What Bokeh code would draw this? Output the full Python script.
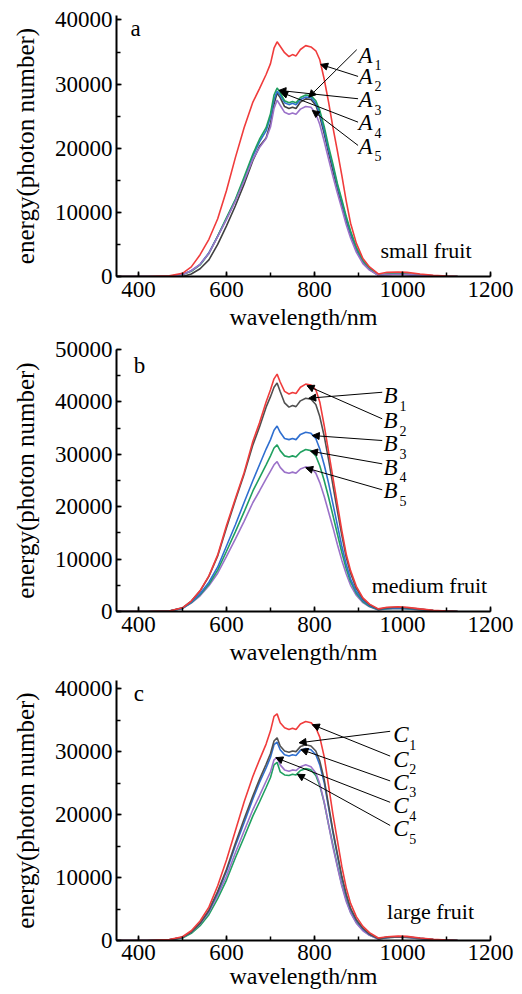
from bokeh.plotting import figure
from bokeh.models import Range1d, SingleIntervalTicker, Label, Arrow, NormalHead
from bokeh.layouts import column
from bokeh.embed import file_html
from bokeh.resources import INLINE

FONT = "Liberation Serif"

# ---------------- data ----------------
wavelength = [350, 420, 470, 500, 520, 540, 560, 580, 600, 620, 640, 660, 675, 690, 700,
              708, 715, 722, 732, 742, 750, 758, 768, 780, 792, 803, 812, 822, 832, 842,
              852, 862, 872, 882, 895, 910, 925, 945, 965, 990, 1010, 1040, 1070, 1100, 1125]

# small fruit (a)
a_red = [0, 0, 100, 500, 1500, 3400, 5800, 9000, 13400, 18500, 23200, 27200, 29300, 31500, 33200,
         35600, 36600, 35900, 34900, 34300, 34600, 34400, 35400, 36000, 35800, 35200, 33800, 30800, 27200, 23200,
         19600, 15800, 11800, 8300, 5200, 2800, 1500, 400, 650, 700, 650, 400, 200, 80, 0]
a_green = [0, 0, 50, 300, 800, 1800, 3600, 6300, 9200, 12000, 15500, 19100, 21400, 23200, 25400,
           28300, 29400, 28700, 27400, 27100, 27300, 27100, 27900, 28300, 28200, 27400, 25900, 23400, 20300, 17500,
           14500, 12000, 9400, 7100, 4600, 2500, 1300, 250, 400, 450, 400, 250, 120, 50, 0]
a_blue = [0, 0, 50, 300, 900, 1900, 3700, 6300, 9000, 11900, 15200, 18800, 21000, 22700, 24900,
          27600, 28900, 28300, 27100, 26800, 27000, 26800, 27600, 28000, 27900, 27000, 25400, 22800, 19800, 17100,
          14200, 11700, 9100, 6800, 4400, 2400, 1200, 250, 350, 400, 350, 200, 100, 40, 0]
a_black = [0, 0, 0, 0, 400, 1200, 2600, 5000, 7900, 11000, 14400, 18100, 20300, 21600, 23900,
           26900, 28600, 27900, 26500, 26200, 26400, 26200, 27200, 27700, 27600, 26700, 25000, 22300, 19300, 16500,
           13700, 11200, 8700, 6500, 4200, 2300, 1100, 200, 300, 350, 300, 200, 100, 30, 0]
a_purple = [0, 0, 50, 300, 900, 1900, 3600, 6200, 8900, 11700, 14900, 18300, 20100, 21500, 23300,
            26200, 27500, 26700, 25600, 25300, 25500, 25300, 26100, 26500, 26400, 25400, 23700, 21100, 18300, 15600,
            13000, 10600, 8100, 6000, 3800, 2000, 1000, 200, 300, 350, 300, 200, 100, 30, 0]

# medium fruit (b)
b_red = [0, 0, 100, 700, 2000, 4000, 6800, 10800, 16400, 21500, 26500, 32500, 36000, 40000, 42300,
         44400, 45300, 43800, 42000, 41500, 41800, 41600, 42800, 43400, 43200, 42300, 40000, 35500, 30500, 25500,
         20500, 15500, 11000, 7800, 4800, 2600, 1400, 500, 800, 900, 800, 500, 250, 100, 0]
b_black = [0, 0, 100, 700, 2000, 3900, 6700, 10600, 16000, 21200, 26200, 31800, 35200, 39000, 41000,
           42800, 43600, 42000, 39800, 39000, 39300, 39100, 40200, 40700, 40500, 39500, 37200, 33500, 29000, 24000,
           19200, 14600, 10400, 7300, 4400, 2400, 1300, 400, 700, 800, 700, 450, 200, 80, 0]
b_blue = [0, 0, 100, 600, 1800, 3400, 5600, 8500, 12500, 16500, 20800, 25000, 28000, 31000, 32800,
          34600, 35400, 34200, 33000, 32800, 33000, 32800, 33800, 34200, 34000, 33000, 31000, 28000, 24500, 20500,
          16500, 12500, 9000, 6200, 3800, 2100, 1100, 400, 600, 700, 600, 400, 200, 80, 0]
b_green = [0, 0, 100, 600, 1700, 3200, 5200, 7900, 11500, 15200, 19000, 23000, 25500, 28000, 29700,
           31200, 31800, 30700, 29700, 29500, 29700, 29500, 30400, 30900, 30700, 29700, 27800, 25000, 21800, 18300,
           14800, 11300, 8200, 5700, 3500, 1900, 1000, 350, 550, 650, 550, 350, 180, 70, 0]
b_purple = [0, 0, 100, 600, 1600, 3000, 4900, 7300, 10500, 13800, 17200, 20800, 23000, 25300, 26800,
            28000, 28600, 27500, 26600, 26400, 26600, 26400, 27200, 27600, 27400, 26400, 24600, 22000, 19000, 16000,
            12800, 9800, 7200, 5000, 3100, 1700, 900, 300, 500, 600, 500, 300, 150, 60, 0]

# large fruit (c)
c_red = [0, 0, 150, 600, 1550, 3100, 5300, 8700, 12800, 17400, 22000, 26100, 28700, 31200, 33300,
         35600, 36000, 34600, 33800, 33500, 33700, 33500, 34400, 34800, 34600, 33800, 32300, 29200, 24600, 20000,
         15900, 11800, 8400, 5900, 3800, 2250, 1250, 400, 600, 700, 650, 400, 200, 80, 0]
c_black = [0, 0, 100, 500, 1350, 2750, 4800, 7800, 11300, 15400, 19300, 23000, 25600, 28000, 29700,
           31700, 32200, 30900, 30100, 29900, 30100, 30000, 30800, 31100, 30900, 30100, 28500, 25600, 21500, 17400,
           13800, 10200, 7400, 5100, 3300, 1950, 1000, 300, 500, 600, 550, 350, 170, 70, 0]
c_blue = [0, 0, 100, 500, 1350, 2750, 4700, 7600, 11000, 15000, 18700, 22500, 25100, 27400, 29100,
          31100, 31500, 30300, 29500, 29300, 29500, 29400, 30200, 30500, 30300, 29500, 27900, 25100, 21100, 17100,
          13500, 10000, 7200, 5000, 3200, 1850, 970, 300, 500, 600, 550, 350, 170, 70, 0]
c_purple = [0, 0, 100, 500, 1330, 2650, 4500, 7200, 10200, 13900, 17400, 20800, 23000, 25300, 26800,
            28700, 29100, 27900, 27100, 26900, 27100, 27000, 27600, 27900, 27600, 26600, 24900, 22000, 18400, 14800,
            11700, 8700, 6200, 4400, 2750, 1550, 820, 250, 450, 550, 500, 300, 150, 60, 0]
c_green = [0, 0, 80, 400, 1130, 2350, 4100, 6650, 9600, 13100, 16400, 19800, 22000, 24300, 25900,
           27900, 28300, 26800, 26300, 26200, 26400, 26300, 27000, 27300, 27100, 26200, 24600, 21900, 18400, 15100,
           11900, 8900, 6500, 4500, 2900, 1650, 870, 250, 450, 550, 500, 300, 150, 60, 0]

# labels / annotations
x_label = "wavelength/nm"
y_label = "energy(photon number)"
panel_letters = ["a", "b", "c"]
panel_notes = ["small fruit", "medium fruit", "large fruit"]
series_symbols = ["A", "B", "C"]
series_numbers = ["1", "2", "3", "4", "5"]
y_max = [40700, 50000, 41300]

letter_x = [382, 389, 389]
letter_y = [38700, 47000, 39300]
note_x = [950, 930, 965]
note_y = [4000, 4900, 4600]

sym_x = [900, 957, 979]
sym_y = [[34500, 31200, 27600, 24000, 20300],
         [41200, 36450, 32000, 27530, 23080],
         [32700, 28770, 25100, 21420, 17750]]

arrow_x0 = [[896, 899, 899, 899, 899],
            [954, 954, 954, 954, 954],
            [972, 972, 972, 972, 972]]
arrow_y0 = [[35370, 31200, 27720, 24070, 20440],
            [41840, 36770, 32630, 28180, 23220],
            [33230, 29290, 25350, 21950, 18270]]
arrow_x1 = [[787, 814, 719, 723, 795],
            [787, 783, 795, 791, 780],
            [765, 795, 769, 712, 761]]
arrow_y1 = [[27970, 33070, 29020, 28750, 25900],
            [40700, 43100, 33580, 30590, 27420],
            [31400, 34280, 30350, 29040, 26410]]

panel_series = [
    [a_black, a_blue, a_green, a_purple, a_red],
    [b_purple, b_green, b_blue, b_black, b_red],
    [c_green, c_purple, c_blue, c_black, c_red],
]
panel_colors = [
    ["#404040", "#2f6fd0", "#20a060", "#9b72c9", "#f03c3c"],
    ["#9b72c9", "#20a060", "#2f6fd0", "#505050", "#f03c3c"],
    ["#20a060", "#9b72c9", "#2f6fd0", "#505050", "#f03c3c"],
]

frame_heights = [261, 262, 260]
top_borders = [15, 16, 13]
bottom_borders = [57, 56, 54]
tick_standoffs = [5, 5, 4]
xlabel_standoffs = [4, 4, 0]


def make_panel(i):
    p = figure(frame_width=374, frame_height=frame_heights[i],
               min_border_left=116, min_border_right=32,
               min_border_top=top_borders[i], min_border_bottom=bottom_borders[i],
               x_range=Range1d(350, 1200), y_range=Range1d(0, y_max[i]),
               output_backend="svg", toolbar_location=None)
    p.xgrid.visible = False
    p.ygrid.visible = False
    p.outline_line_color = None
    p.background_fill_color = "white"
    p.border_fill_color = "white"

    p.xaxis.ticker = SingleIntervalTicker(interval=200, num_minor_ticks=2)
    p.yaxis.ticker = SingleIntervalTicker(interval=10000, num_minor_ticks=2)
    for ax in p.axis:
        ax.axis_line_width = 2
        ax.axis_line_color = "black"
        ax.major_tick_in = 5
        ax.major_tick_out = 0
        ax.minor_tick_in = 4
        ax.minor_tick_out = 0
        ax.major_tick_line_width = 1.5
        ax.minor_tick_line_width = 1.5
        ax.major_tick_line_color = "black"
        ax.minor_tick_line_color = "black"
        ax.major_label_text_font = FONT
        ax.major_label_text_font_size = "23px"
        ax.major_label_text_color = "black"
        ax.axis_label_text_font = FONT
        ax.axis_label_text_font_style = "normal"
        ax.axis_label_text_color = "black"
    p.xaxis.axis_label_text_font_size = "24px"
    p.yaxis.axis_label_text_font_size = "25px"
    p.xaxis.axis_label = x_label
    p.yaxis.axis_label = y_label
    p.xaxis.major_label_standoff = tick_standoffs[i]
    p.xaxis.axis_label_standoff = xlabel_standoffs[i]
    p.yaxis.major_label_standoff = 4
    p.yaxis.axis_label_standoff = 13

    for ys, col in zip(panel_series[i], panel_colors[i]):
        p.line(wavelength, ys, line_color=col, line_width=1.6)

    for k in range(5):
        p.add_layout(Arrow(end=NormalHead(size=7, fill_color="black", line_color="black", line_width=1),
                           x_start=arrow_x0[i][k], y_start=arrow_y0[i][k],
                           x_end=arrow_x1[i][k], y_end=arrow_y1[i][k],
                           line_color="black", line_width=1))
        p.add_layout(Label(x=sym_x[i], y=sym_y[i][k], text=series_symbols[i],
                           text_font=FONT, text_font_style="italic", text_font_size="23px",
                           text_baseline="alphabetic", text_align="left", text_color="black"))
        p.add_layout(Label(x=sym_x[i], y=sym_y[i][k], x_offset=16, y_offset=-10,
                           text=series_numbers[k], text_font=FONT, text_font_size="14px",
                           text_baseline="alphabetic", text_align="left", text_color="black"))

    p.add_layout(Label(x=letter_x[i], y=letter_y[i], text=panel_letters[i], text_font=FONT,
                       text_font_size="23px", text_baseline="alphabetic", text_color="black"))
    p.add_layout(Label(x=note_x[i], y=note_y[i], text=panel_notes[i], text_font=FONT,
                       text_font_size="22px", text_baseline="alphabetic", text_color="black"))
    return p


panels = [make_panel(i) for i in range(3)]
layout = column(*panels, spacing=0)

open("out.html", "w").write(file_html(layout, INLINE))
